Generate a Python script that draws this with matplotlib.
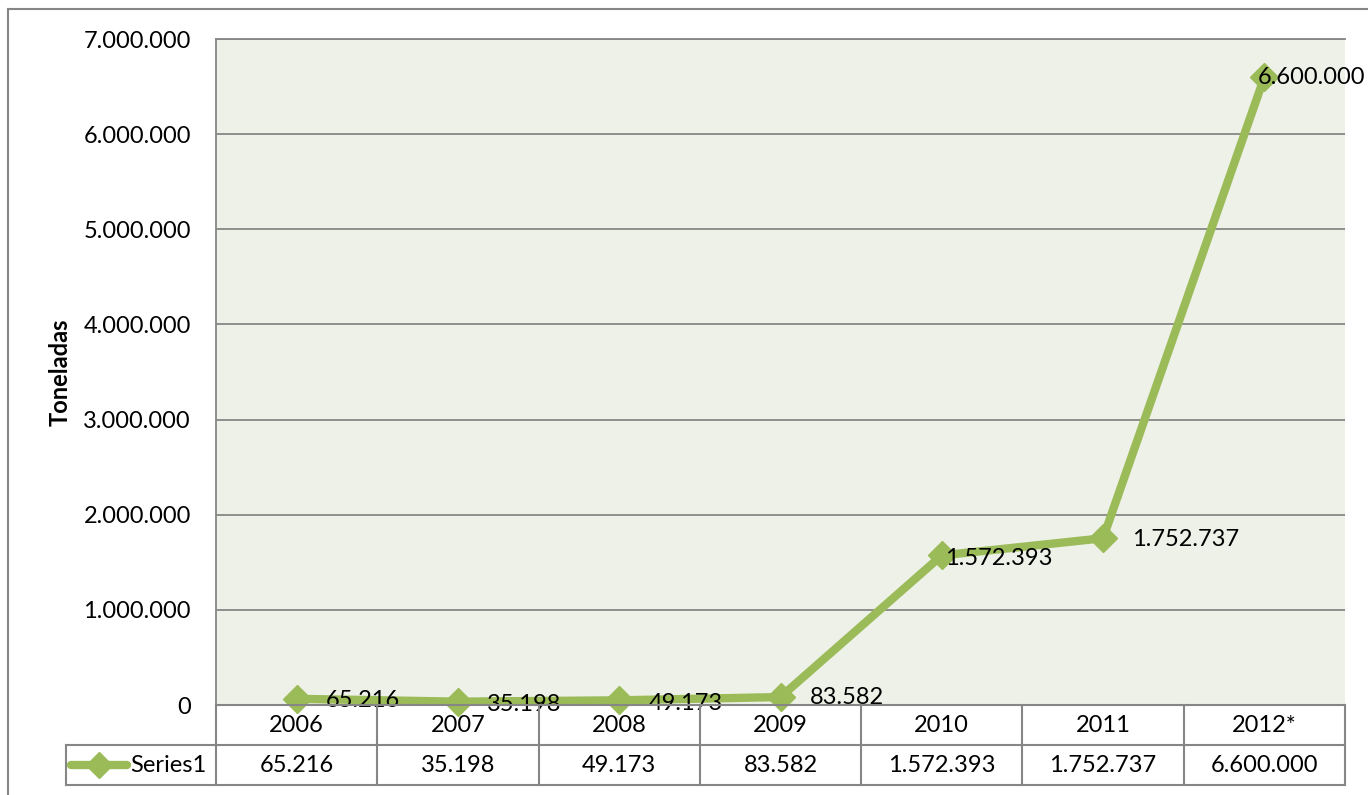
import matplotlib
matplotlib.use("Agg")
import matplotlib.pyplot as plt
from matplotlib.lines import Line2D
from matplotlib.transforms import blended_transform_factory

categories = ["2006", "2007", "2008", "2009", "2010", "2011", "2012*"]
values = [65216, 35198, 49173, 83582, 1572393, 1752737, 6600000]
series_name = "Series1"
y_label = "Toneladas"
y_ticks = [0, 1000000, 2000000, 3000000, 4000000, 5000000, 6000000, 7000000]


def fmt(v):
    return f"{int(v):,}".replace(",", ".")


W, H = 1368, 795
plt.rcParams['font.family'] = ['Lato', 'DejaVu Sans']
FS = 17
GREEN = "#9BBB59"
GRAY = "#868686"

fig = plt.figure(figsize=(W / 100, H / 100), dpi=100)
fig.patch.set_facecolor("white")

L, R, T, B = 216, 1345, 39, 705
ax = fig.add_axes([L / W, 1 - B / H, (R - L) / W, (B - T) / H])
ax.set_facecolor("#EEF1E7")
n = len(categories)
ax.set_xlim(-0.5, n - 0.5)
ax.set_ylim(0, 7000000)
ax.set_yticks(y_ticks)
ax.set_yticklabels([fmt(t) for t in y_ticks], fontsize=FS)
ax.tick_params(axis="y", length=0, pad=18)
ax.set_xticks([])
ax.grid(axis="y", color=GRAY, linewidth=1.3)
ax.set_axisbelow(True)
for s in ["right", "bottom"]:
    ax.spines[s].set_visible(False)
for s in ["left", "top"]:
    ax.spines[s].set_color(GRAY)
    ax.spines[s].set_linewidth(1.3)

x = list(range(n))
ax.plot(x, values, color=GREEN, linewidth=6, marker="D", markersize=14,
        markerfacecolor=GREEN, markeredgecolor=GREEN, clip_on=False, zorder=3)

label_dx = [21, 21, 21, 21, 2, 21, -5]
label_dy = [-1, -2, -2, 0, -2, -1, 0]
for xi, v, dx, dy in zip(x, values, label_dx, label_dy):
    ax.annotate(fmt(v), (xi, v), xytext=(dx, dy), textcoords="offset points",
                ha="left", va="center", fontsize=FS, zorder=4, annotation_clip=False)

fig.text(60 / W, 1 - 372 / H, y_label, rotation=90, ha="center", va="center",
         fontsize=FS, fontweight="bold")

# data table
bt = blended_transform_factory(ax.transData, fig.transFigure)
row1_top, row1_bot, row2_bot = 705, 745, 785


def fy(p):
    return 1 - p / H


lines = []
for yy in [row1_top, row1_bot, row2_bot]:
    lines.append(Line2D([-0.5, n - 0.5], [fy(yy), fy(yy)], transform=bt))
for i in range(n + 1):
    lines.append(Line2D([i - 0.5, i - 0.5], [fy(row1_top), fy(row2_bot)], transform=bt))
lines.append(Line2D([66 / W, L / W], [fy(row1_bot), fy(row1_bot)], transform=fig.transFigure))
lines.append(Line2D([66 / W, L / W], [fy(row2_bot), fy(row2_bot)], transform=fig.transFigure))
lines.append(Line2D([66 / W, 66 / W], [fy(row1_bot), fy(row2_bot)], transform=fig.transFigure))
lines.append(Line2D([8 / W, 8 / W], [fy(9), 0], transform=fig.transFigure))
lines.append(Line2D([8 / W, 1], [fy(9), fy(9)], transform=fig.transFigure))
for ln in lines:
    ln.set_color(GRAY)
    ln.set_linewidth(1.5)
    fig.add_artist(ln)

for xi, c, v in zip(x, categories, values):
    fig.text(xi, fy((row1_top + row1_bot) / 2), c, transform=bt, ha="center",
             va="center", fontsize=FS)
    fig.text(xi, fy((row1_bot + row2_bot) / 2), fmt(v), transform=bt, ha="center",
             va="center", fontsize=FS)

ymid = fy((row1_bot + row2_bot) / 2)
fig.add_artist(Line2D([71 / W, 127 / W], [ymid, ymid], transform=fig.transFigure,
                      color=GREEN, linewidth=6, solid_capstyle="round"))
fig.add_artist(Line2D([99 / W], [ymid], transform=fig.transFigure, marker="D",
                      markersize=13, color=GREEN, linestyle="none"))
fig.text(130 / W, ymid, series_name, ha="left", va="center", fontsize=FS)

fig.savefig("out.png", dpi=100)
